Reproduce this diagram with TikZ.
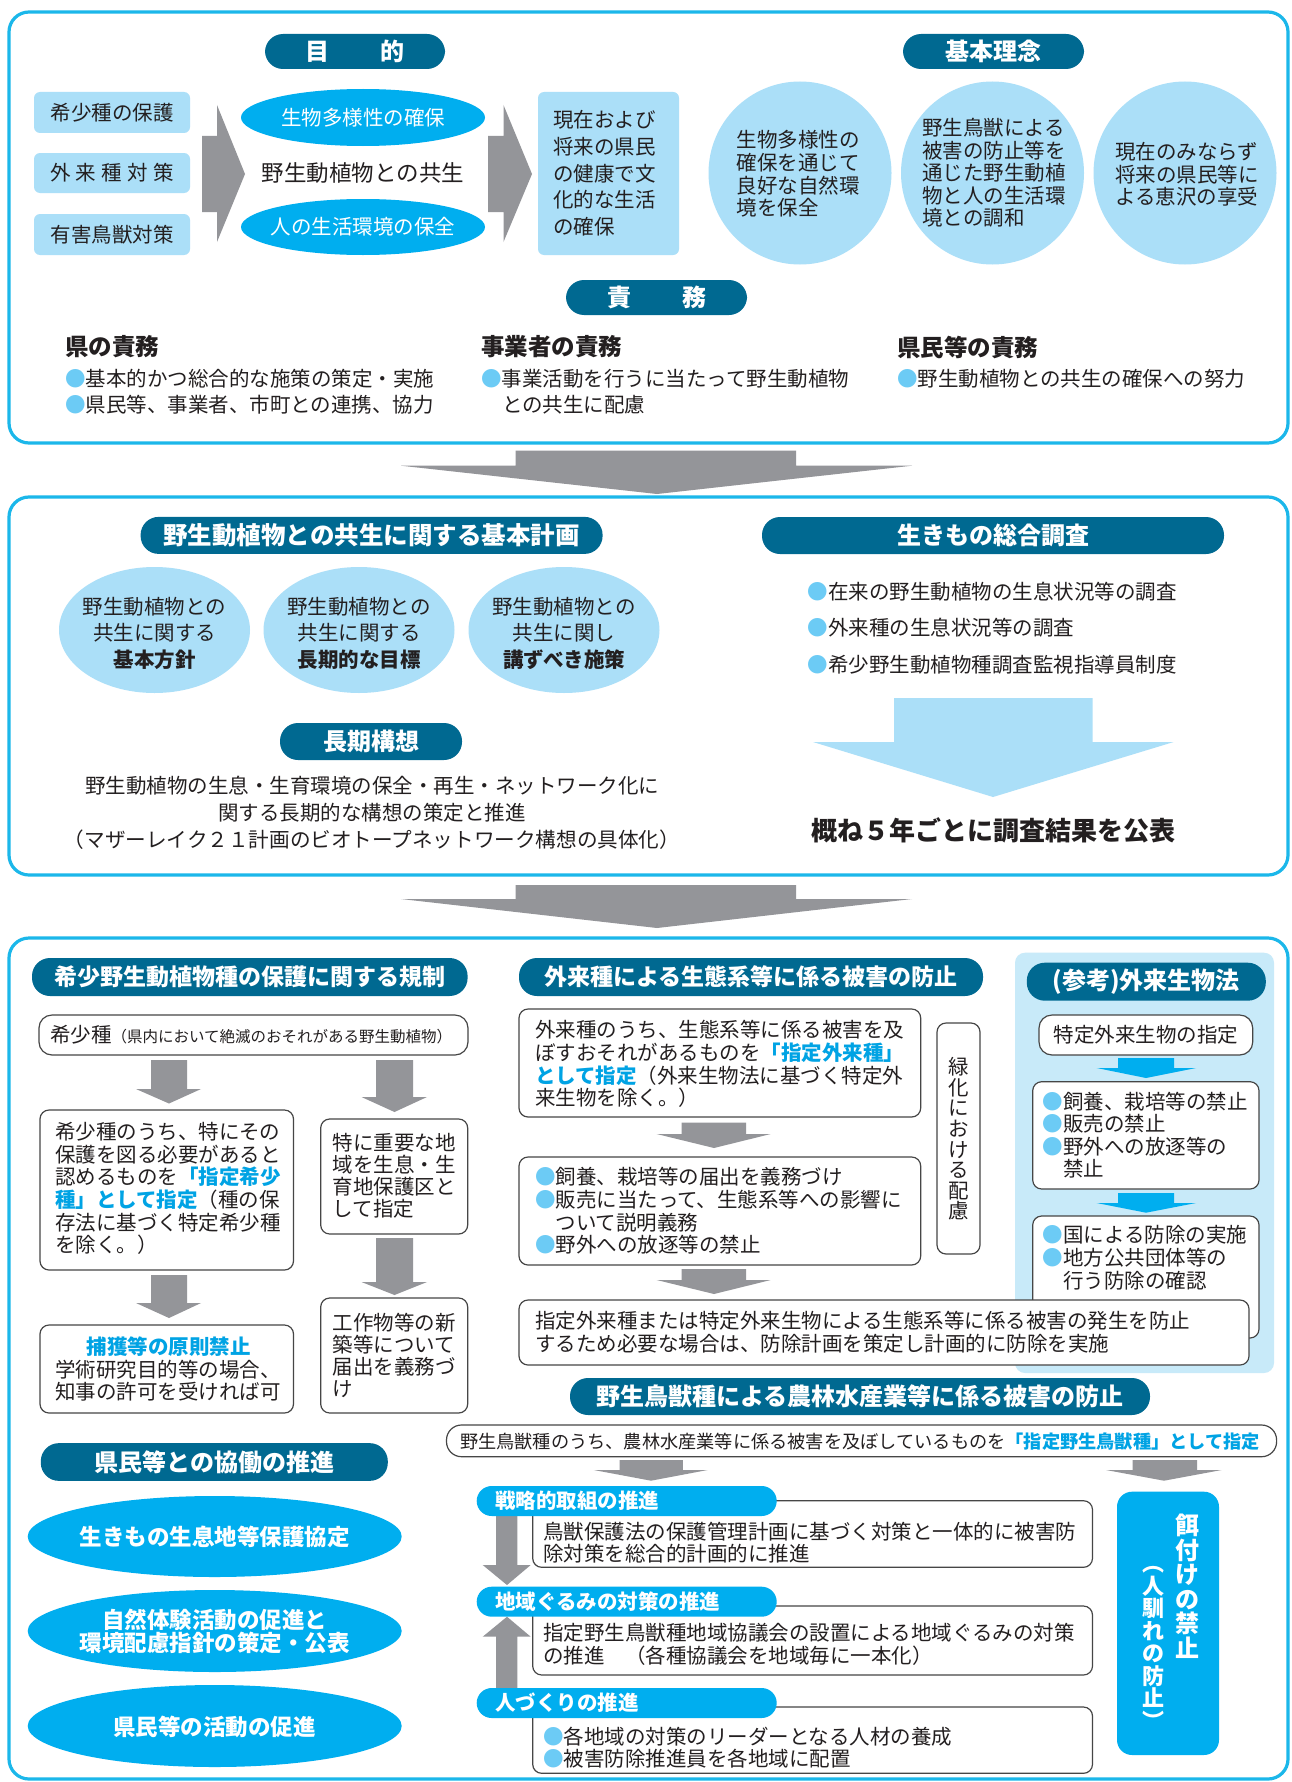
\documentclass[tikz,border=0pt]{standalone}
\usepackage{fontspec}
\setmainfont{Noto Sans CJK JP}
\usetikzlibrary{shapes.geometric}
\definecolor{framec}{RGB}{27,183,234}
\definecolor{pillc}{RGB}{0,105,145}
\definecolor{cyanc}{RGB}{0,174,239}
\definecolor{lightc}{RGB}{171,223,248}
\definecolor{panelc}{RGB}{200,234,249}
\definecolor{bulc}{RGB}{108,203,245}
\definecolor{bluet}{RGB}{0,163,228}
\definecolor{grayc}{RGB}{148,149,153}
\definecolor{txtc}{RGB}{35,31,32}
\definecolor{linec}{RGB}{70,70,70}
\newcommand{\fs}[2]{\fontsize{#1}{#2}\selectfont}
\newcommand{\bul}{\textcolor{bulc}{●}}
\newcommand{\bt}[1]{\textcolor{bluet}{\bfseries #1}}
% style, name, x1, y1, x2, y2
\newcommand{\boxnode}[6]{\node[#1, anchor=north west, minimum width={(#5)-(#3)}, minimum height={(#6)-(#4)}] (#2) at (#3,#4) {};}
\begin{document}
\begin{tikzpicture}[x=1pt,y=-1pt,
  every node/.style={inner sep=0pt, outer sep=0pt, text=txtc},
  frame/.style={draw=framec, line width=3.2pt, rounded corners=20pt},
  pill/.style={fill=pillc, rounded corners=18pt, text=white, font=\fs{24}{26}\bfseries},
  lbox/.style={fill=lightc, rounded corners=6pt},
  wbox/.style={draw=linec, line width=1.2pt, fill=white, rounded corners=9pt},
  wboxr/.style={draw=linec, line width=1.2pt, fill=white, rounded corners=13pt},
  wboxp/.style={draw=linec, line width=1.2pt, fill=white, rounded corners=15pt},
  panel/.style={fill=panelc, rounded corners=10pt},
  tab/.style={fill=cyanc, rounded corners=15pt},
  tabtext/.style={text=white, font=\fs{20.5}{22}\bfseries},
  ebox/.style={fill=cyanc, rounded corners=15pt},
  body/.style={font=\fs{20.5}{22.6}, align=left},
  eltext/.style={text=white, font=\fs{22.5}{21.7}\bfseries, align=center},
  garrow/.style={fill=grayc},
]
\fill[white] (0,0) rectangle (1292,1782);
\useasboundingbox (0,0) rectangle (1292,1782);

% ================= Section 1 =================
\boxnode{frame}{sec1}{9}{12}{1288}{443}
\node[pill, minimum width=180pt, minimum height=35pt] (mokuteki) at (355,51.5) {目\hspace{51pt}的};
\node[pill, minimum width=181pt, minimum height=35pt] (rinen) at (993.5,51.5) {基本理念};
\node[pill, minimum width=181pt, minimum height=35pt] (sekimu) at (656.5,297.5) {責\hspace{51pt}務};

\node[lbox, minimum width=156pt, minimum height=41pt, font=\fs{20.5}{22}] (k1) at (112,112.5) {希少種の保護};
\node[lbox, minimum width=156pt, minimum height=40pt, font=\fs{20.5}{22}] (k2) at (112,173) {\hbox to 124pt{外\hfil 来\hfil 種\hfil 対\hfil 策}};
\node[lbox, minimum width=156pt, minimum height=41pt, font=\fs{20.5}{22}] (k3) at (112,234.5) {有害鳥獣対策};

\fill[garrow] (202,136) -- (217,136) -- (217,105) -- (245,174) -- (217,242) -- (217,212) -- (202,212) -- cycle;
\fill[garrow] (488,136) -- (503.5,136) -- (503.5,105) -- (532,174) -- (503.5,242) -- (503.5,212) -- (488,212) -- cycle;

\node[ellipse, fill=cyanc, minimum width=244pt, minimum height=57pt] (e1) at (363,117.5) {};
\node[ellipse, fill=cyanc, minimum width=244pt, minimum height=56pt] (e2) at (363,227) {};
\node[text=white, font=\fs{20.5}{22}] (e1t) at (e1) {生物多様性の確保};
\node[text=white, font=\fs{20.5}{22}] (e2t) at (e2) {人の生活環境の保全};
\node[font=\fs{22.5}{24}] (kyosei) at (363,173) {野生動植物との共生};

\boxnode{lbox}{genzai}{538}{92}{679}{255}
\node[font=\fs{20.5}{26.7}, align=left, anchor=west] (genzait) at (553,173.5) {現在および\\将来の県民\\の健康で文\\化的な生活\\の確保};

\node[circle, fill=lightc, minimum size=183pt] (c1) at (800,173) {};
\node[circle, fill=lightc, minimum size=183pt] (c2) at (992.5,173) {};
\node[circle, fill=lightc, minimum size=183pt] (c3) at (1185,173) {};
\node[font=\fs{20.5}{22.7}, align=left] (c1t) at (798,174) {生物多様性の\\確保を通じて\\良好な自然環\\境を保全};
\node[font=\fs{20.5}{22.5}, align=left] (c2t) at (994,173) {野生鳥獣による\\被害の防止等を\\通じた野生動植\\物と人の生活環\\境との調和};
\node[font=\fs{20.5}{22.5}, align=left] (c3t) at (1187,174.5) {現在のみならず\\将来の県民等に\\よる恵沢の享受};

\node[font=\fs{23.5}{25}\bfseries, anchor=west] (h1) at (65,347) {県の責務};
\node[font=\fs{23.5}{25}\bfseries, anchor=west] (h2) at (481,347) {事業者の責務};
\node[font=\fs{23.5}{25}\bfseries, anchor=west] (h3) at (897,347) {県民等の責務};
\node[body, anchor=west] (b11) at (65,379) {\bul 基本的かつ総合的な施策の策定・実施};
\node[body, anchor=west] (b12) at (65,405) {\bul 県民等、事業者、市町との連携、協力};
\node[body, anchor=west] (b21) at (481,379) {\bul 事業活動を行うに当たって野生動植物};
\node[body, anchor=west] (b22) at (502,405) {との共生に配慮};
\node[body, anchor=west] (b31) at (897,379) {\bul 野生動植物との共生の確保への努力};

% big arrow 1
\fill[garrow] (515.7,450.7) -- (796,450.7) -- (796,465.7) -- (912,465.7) -- (657,494) -- (401,465.7) -- (515.7,465.7) -- cycle;

% ================= Section 2 =================
\boxnode{frame}{sec2}{9}{497}{1288}{875}
\node[pill, minimum width=462pt, minimum height=37pt, font=\fs{24.5}{26}\bfseries] (kihon) at (371.6,535.4) {野生動植物との共生に関する基本計画};
\node[pill, minimum width=462pt, minimum height=37pt] (chosa) at (993,535.5) {生きもの総合調査};

\node[ellipse, fill=lightc, minimum width=191pt, minimum height=126pt] (p1) at (154.5,630) {};
\node[ellipse, fill=lightc, minimum width=191pt, minimum height=126pt] (p2) at (359,630) {};
\node[ellipse, fill=lightc, minimum width=191pt, minimum height=126pt] (p3) at (564,630) {};
\node[font=\fs{20.5}{26.6}, align=center] (p1t) at (154.5,633.3) {野生動植物との\\共生に関する\\\textbf{基本方針}};
\node[font=\fs{20.5}{26.6}, align=center] (p2t) at (359,633.3) {野生動植物との\\共生に関する\\\textbf{長期的な目標}};
\node[font=\fs{20.5}{26.6}, align=center] (p3t) at (564,633.3) {野生動植物との\\共生に関し\\\textbf{講ずべき施策}};

\node[pill, minimum width=182pt, minimum height=37pt] (koso) at (371,741.5) {長期構想};
\node[font=\fs{20.5}{27}, align=center] (kosot) at (372,813) {野生動植物の生息・生育環境の保全・再生・ネットワーク化に\\関する長期的な構想の策定と推進\\{\fs{20.6}{27}（マザーレイク２１計画のビオトープネットワーク構想の具体化）}};

\node[body, anchor=west] (s1) at (807.5,592) {\bul 在来の野生動植物の生息状況等の調査};
\node[body, anchor=west] (s2) at (807.5,628) {\bul 外来種の生息状況等の調査};
\node[body, anchor=west] (s3) at (807.5,665) {\bul 希少野生動植物種調査監視指導員制度};
\fill[lightc] (894,698) -- (1092.5,698) -- (1092.5,742) -- (1173.6,742) -- (993,797) -- (813,742) -- (894,742) -- cycle;
\node[font=\fs{26}{28}\bfseries] (kohyo) at (993,830) {概ね５年ごとに調査結果を公表};

% big arrow 2
\fill[garrow] (515.7,885) -- (796,885) -- (796,899) -- (912,899) -- (657,928) -- (401,899) -- (515.7,899) -- cycle;

% ================= Section 3 =================
\boxnode{frame}{sec3}{9}{938}{1288}{1779}

% --- left column
\node[pill, minimum width=435.6pt, minimum height=38pt, font=\fs{23}{25}\bfseries] (kishoP) at (249.8,977) {希少野生動植物種の保護に関する規制};
\boxnode{wboxr}{kisho}{39}{1015}{468}{1055}
\node[anchor=west] (kishot) at (50,1035) {\fs{20.5}{22}希少種\fs{15.5}{17}（県内において絶滅のおそれがある野生動植物）};

\fill[garrow] (151,1060) -- (187,1060) -- (187,1089) -- (201,1089) -- (169,1103.5) -- (136,1089) -- (151,1089) -- cycle;
\fill[garrow] (376,1060) -- (413,1060) -- (413,1097) -- (427,1097) -- (394.5,1112) -- (361.5,1097) -- (376,1097) -- cycle;

\boxnode{wbox}{shitei}{40}{1110}{293.5}{1270}
\node[font=\fs{20.5}{22.6}, align=left, anchor=west] (shiteit) at (55,1188.5) {希少種のうち、特にその\\保護を図る必要があると\\認めるものを\bt{「指定希少}\\\bt{種」として指定}（種の保\\存法に基づく特定希少種\\を除く。）};

\boxnode{wbox}{hogoku}{320.7}{1119}{467.7}{1234}
\node[font=\fs{20.5}{22}, align=left, anchor=west] (hogokut) at (332.7,1176) {特に重要な地\\域を生息・生\\育地保護区と\\して指定};

\fill[garrow] (151,1275) -- (187,1275) -- (187,1303) -- (201,1303) -- (169,1318) -- (136,1303) -- (151,1303) -- cycle;
\fill[garrow] (376,1238) -- (413,1238) -- (413,1282) -- (427,1282) -- (394.5,1295) -- (361.5,1282) -- (376,1282) -- cycle;

\boxnode{wbox}{hokaku}{40}{1325}{293.5}{1413}
\node[font=\fs{20.5}{22}\bfseries, text=bluet] (hokakuh) at (168.6,1347) {捕獲等の原則禁止};
\node[font=\fs{20.5}{22.3}, align=left, anchor=west] (hokakut) at (55,1381) {学術研究目的等の場合、\\知事の許可を受ければ可};

\boxnode{wbox}{kosaku}{320.7}{1298}{467.7}{1413}
\node[font=\fs{20.5}{22}, align=left, anchor=west] (kosakut) at (332.7,1355) {工作物等の新\\築等について\\届出を義務づ\\け};

% --- middle column
\node[pill, minimum width=464pt, minimum height=38pt, font=\fs{23}{25}\bfseries] (gairaiP) at (751,977) {外来種による生態系等に係る被害の防止};
\boxnode{wbox}{gairai}{519}{1009}{920.7}{1117}
\node[font=\fs{20.5}{22.7}, align=left, anchor=west] (gairait) at (535,1064) {外来種のうち、生態系等に係る被害を及\\ぼすおそれがあるものを\bt{「指定外来種」}\\\bt{として指定}（外来生物法に基づく特定外\\来生物を除く。）};
\fill[garrow] (681.7,1122.7) -- (746,1122.7) -- (746,1134) -- (770.7,1134) -- (714,1148) -- (656.7,1134) -- (681.7,1134) -- cycle;
\boxnode{wbox}{kisei}{519}{1157}{920.7}{1265}
\node[font=\fs{20.5}{22.7}, align=left, anchor=west] (kiseit) at (535,1211) {\bul 飼養、栽培等の届出を義務づけ\\\bul 販売に当たって、生態系等への影響に\\\hspace*{20.5pt}ついて説明義務\\\bul 野外への放逐等の禁止};
\fill[garrow] (681.7,1269) -- (746,1269) -- (746,1280) -- (770.7,1280) -- (714,1294) -- (656.7,1280) -- (681.7,1280) -- cycle;

\boxnode{wbox}{ryokka}{937}{1023}{980}{1254}
\node[font=\fs{20.5}{20.6}, align=center] (ryokkat) at (958.5,1139) {緑\\化\\に\\お\\け\\る\\配\\慮};

% --- right panel
\boxnode{panel}{sanko}{1015}{952.7}{1274}{1373}
\node[pill, minimum width=239pt, minimum height=38pt] (sankoP) at (1146.3,981.7) {(参考)外来生物法};
\boxnode{wboxr}{tokutei}{1039}{1015}{1252.7}{1055}
\node[font=\fs{20.5}{22}] (tokuteit) at (1146,1035) {特定外来生物の指定};
\fill[cyanc] (1118,1058) -- (1174,1058) -- (1174,1068) -- (1196,1068) -- (1146,1078) -- (1096.7,1068) -- (1118,1068) -- cycle;
\boxnode{wbox}{kinshi}{1032.7}{1081.7}{1259}{1189}
\node[font=\fs{20.5}{22.5}, align=left, anchor=west] (kinshit) at (1042.7,1135.4) {\bul 飼養、栽培等の禁止\\\bul 販売の禁止\\\bul 野外への放逐等の\\\hspace*{20.5pt}禁止};
\fill[cyanc] (1118,1193) -- (1174,1193) -- (1174,1203) -- (1196,1203) -- (1146,1212.7) -- (1096.7,1203) -- (1118,1203) -- cycle;
\boxnode{wbox}{kuni}{1032.7}{1216}{1259}{1338}
\node[font=\fs{20.5}{22.8}, align=left, anchor=west] (kunit) at (1042.7,1258) {\bul 国による防除の実施\\\bul 地方公共団体等の\\\hspace*{20.5pt}行う防除の確認};

\boxnode{wbox}{bojo}{519}{1300}{1249}{1365}
\node[font=\fs{20.5}{23}, align=left, anchor=west] (bojot) at (535,1332.5) {指定外来種または特定外来生物による生態系等に係る被害の発生を防止\\するため必要な場合は、防除計画を策定し計画的に防除を実施};

% --- wildlife damage
\node[pill, minimum width=580pt, minimum height=37pt] (chojuP) at (860,1396.5) {野生鳥獣種による農林水産業等に係る被害の防止};
\boxnode{wboxp}{choju}{446.5}{1425}{1276.6}{1456.7}
\node[font=\fs{18.2}{20}] (chojut) at (860,1441.7) {野生鳥獣種のうち、農林水産業等に係る被害を及ぼしているものを\bt{「指定野生鳥獣種」として指定}};
\fill[garrow] (619.7,1460) -- (682.9,1460) -- (682.9,1470) -- (707.6,1470) -- (651,1480.7) -- (593.8,1470) -- (619.7,1470) -- cycle;
\fill[garrow] (1132.6,1460) -- (1197,1460) -- (1197,1470) -- (1221.6,1470) -- (1164,1480.7) -- (1106,1470) -- (1132.6,1470) -- cycle;

\boxnode{wbox}{senryaku}{532.7}{1500.7}{1092.5}{1567.3}
\boxnode{wbox}{chiiki}{532.7}{1606}{1092.5}{1675}
\boxnode{wbox}{hito}{532.7}{1707}{1092.5}{1773.3}
\fill[garrow] (496,1510) -- (517.3,1510) -- (517.3,1565) -- (530.7,1565) -- (507,1585) -- (482.7,1565) -- (496,1565) -- cycle;
\fill[garrow] (507,1616.7) -- (530.7,1636.7) -- (517.3,1636.7) -- (517.3,1690) -- (496,1690) -- (496,1636.7) -- (482.7,1636.7) -- cycle;
\boxnode{tab}{t1}{476.7}{1486}{776.7}{1516}
\boxnode{tab}{t2}{476.7}{1586.7}{776.7}{1616.7}
\boxnode{tab}{t3}{476.7}{1688}{776.7}{1718}
\node[tabtext, anchor=west] (t1t) at (495,1501) {戦略的取組の推進};
\node[tabtext, anchor=west] (t2t) at (495,1601.7) {地域ぐるみの対策の推進};
\node[tabtext, anchor=west] (t3t) at (495,1703) {人づくりの推進};
\node[font=\fs{20.5}{21.5}, align=left, anchor=west] (senryakut) at (543,1542.4) {鳥獣保護法の保護管理計画に基づく対策と一体的に被害防\\除対策を総合的計画的に推進};
\node[font=\fs{20.5}{23}, align=left, anchor=west] (chiikit) at (543,1644.5) {指定野生鳥獣種地域協議会の設置による地域ぐるみの対策\\の推進　（各種協議会を地域毎に一本化）};
\node[font=\fs{20.5}{21.5}, align=left, anchor=west] (hitot) at (543,1747.5) {\bul 各地域の対策のリーダーとなる人材の養成\\\bul 被害防除推進員を各地域に配置};

\boxnode{ebox}{ezuke}{1117}{1491.7}{1219}{1755}
\node[font=\fs{24}{24.5}\bfseries, text=white, align=center] (ezuke1) at (1187.6,1586) {餌\\付\\け\\の\\禁\\止};
\node[font=\fs{22}{22.5}\bfseries, text=white, align=center] (ezuke2) at (1153,1648) {︵\\人\\馴\\れ\\の\\防\\止\\︶};

% --- cooperation
\node[pill, minimum width=347pt, minimum height=37.7pt] (kyodo) at (214.3,1462) {県民等との協働の推進};
\node[ellipse, fill=cyanc, minimum width=374pt, minimum height=81pt] (q1) at (214.7,1536.5) {};
\node[ellipse, fill=cyanc, minimum width=374pt, minimum height=82pt] (q2) at (214.7,1631) {};
\node[ellipse, fill=cyanc, minimum width=374pt, minimum height=82pt] (q3) at (214.7,1726) {};
\node[eltext] (q1t) at (214.7,1537) {生きもの生息地等保護協定};
\node[eltext] (q2t) at (214.7,1631) {自然体験活動の促進と\\環境配慮指針の策定・公表};
\node[eltext] (q3t) at (214.7,1726.7) {県民等の活動の促進};
\end{tikzpicture}
\end{document}
